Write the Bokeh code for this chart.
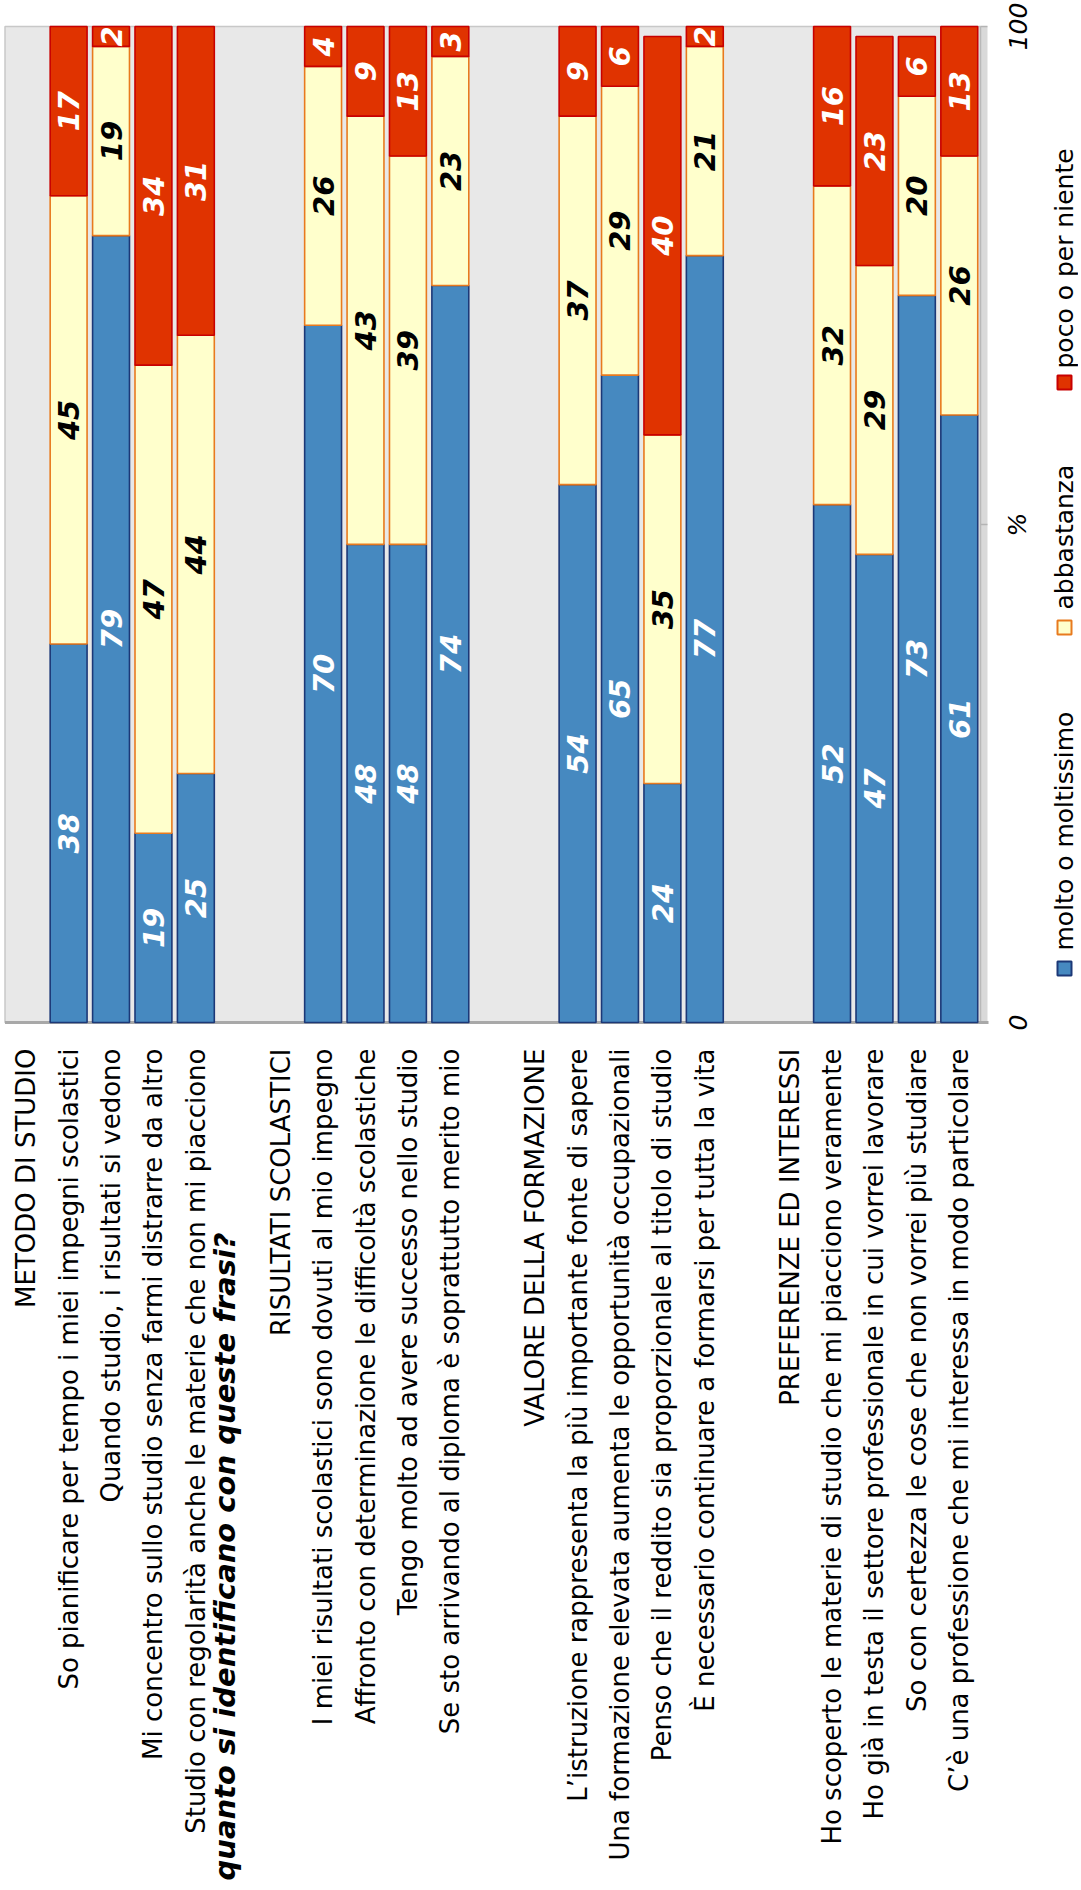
from math import pi
from bokeh.plotting import figure
from bokeh.models import Range1d, ColumnDataSource
from bokeh.core.properties import value
from bokeh.embed import file_html
from bokeh.resources import INLINE

# ---------------- data ----------------
groups = ["METODO DI STUDIO", "RISULTATI SCOLASTICI",
          "VALORE DELLA FORMAZIONE", "PREFERENZE ED INTERESSI"]

items_metodo = [
    "So pianificare per tempo i miei impegni scolastici",
    "Quando studio, i risultati si vedono",
    "Mi concentro sullo studio senza farmi distrarre da altro",
    "Studio con regolarità anche le materie che non mi piacciono",
]
items_risultati = [
    "I miei risultati scolastici sono dovuti al mio impegno",
    "Affronto con determinazione le difficoltà scolastiche",
    "Tengo molto ad avere successo nello studio",
    "Se sto arrivando al diploma è soprattutto merito mio",
]
items_valore = [
    "L’istruzione rappresenta la più importante fonte di sapere",
    "Una formazione elevata aumenta le opportunità occupazionali",
    "Penso che il reddito sia proporzionale al titolo di studio",
    "È necessario continuare a formarsi per tutta la vita",
]
items_preferenze = [
    "Ho scoperto le materie di studio che mi piacciono veramente",
    "Ho già in testa il settore professionale in cui vorrei lavorare",
    "So con certezza le cose che non vorrei più studiare",
    "C’è una professione che mi interessa in modo particolare",
]

molto = [38, 79, 19, 25, 70, 48, 48, 74, 54, 65, 24, 77, 52, 47, 73, 61]
abbastanza = [45, 19, 47, 44, 26, 43, 39, 23, 37, 29, 35, 21, 32, 29, 20, 26]
poco = [17, 2, 34, 31, 4, 9, 13, 3, 9, 6, 40, 2, 16, 23, 6, 13]

series_names = ["molto o moltissimo", "abbastanza", "poco o per niente"]
y_ticks = [0, 50, 100]
y_tick_labels = ["0", "%", "100"]
axis_title = "quanto si identificano con queste frasi?"

# ---------------- styles / layout ----------------
fills = ["#4689c0", "#ffffcc", "#e03300"]
lines = ["#1c3877", "#e87a1e", "#c80000"]
label_colors = ["white", "black", "white"]
FONT = "DejaVu Sans"

W, H = 1078, 1886                 # canvas size (placed at page 0,0)
PLOT_LEFT, PLOT_RIGHT = 4.5, 980  # grey plotting area, page pixels
PLOT_TOP, PLOT_BOTTOM = 26, 1022

all_groups_items = [items_metodo, items_risultati, items_valore, items_preferenze]
slot_labels = []            # category axis, including group headers and gaps
for gi, g in enumerate(groups):
    if gi > 0:
        slot_labels.append("")
    slot_labels.append(g)
    slot_labels.extend(all_groups_items[gi])
n = len(slot_labels)
items = [it for grp in all_groups_items for it in grp]
item_pos = [slot_labels.index(it) + 0.5 for it in items]

SX = (PLOT_RIGHT - PLOT_LEFT) / n      # px per category slot
SY = (PLOT_BOTTOM - PLOT_TOP) / 100    # px per percent


def dx(page_x):
    return (page_x - PLOT_LEFT) / SX


def dy(page_y):
    return (PLOT_BOTTOM - page_y) / SY


p = figure(x_range=Range1d(dx(0), dx(W)),
           y_range=Range1d(dy(H), dy(0)),
           width=W, height=H, output_backend="svg", toolbar_location=None,
           x_axis_location=None, y_axis_location=None, min_border=0)
p.outline_line_color = None
p.grid.visible = False
p.background_fill_color = "white"
p.border_fill_color = "white"

# grey plotting area
p.quad(left=0, right=n, bottom=0, top=100, fill_color="#e8e8e8",
       line_color="#c8c8c8", line_width=1.5)
# right wall shading, value axis line, tick marks
p.segment(x0=[n + 3.5 / SX], y0=[0], x1=[n + 3.5 / SX], y1=[100],
          line_color="#d9d9d9", line_width=7)
p.segment(x0=[n], y0=[0], x1=[n], y1=[100], line_color="#b8b8b8", line_width=1.5)
p.segment(x0=[n] * len(y_ticks), y0=y_ticks, x1=[n + 7 / SX] * len(y_ticks), y1=y_ticks,
          line_color="#b4b4b4", line_width=1.5)
# category axis line
p.segment(x0=[0], y0=[0], x1=[n + 8 / SX], y1=[0], line_color="#a8a8a8", line_width=3)

# stacked bars
src = ColumnDataSource(dict(x=item_pos, molto=molto, abbastanza=abbastanza, poco=poco))
p.vbar_stack(["molto", "abbastanza", "poco"], x="x", width=0.87, source=src,
             fill_color=fills, line_color=lines, line_width=1.6)

# value labels inside segments
lx, ly, lt, lc = [], [], [], []
for i in range(len(items)):
    base = 0
    for si, vals in enumerate([molto, abbastanza, poco]):
        v = vals[i]
        lx.append(item_pos[i])
        ly.append(base + v / 2)
        lt.append(str(v))
        lc.append(label_colors[si])
        base += v
p.text(x="x", y="y", text="t", source=ColumnDataSource(dict(x=lx, y=ly, t=lt, c=lc)),
       angle=pi / 2, text_align="center", text_baseline="middle",
       text_font=value(FONT), text_font_style="bold italic",
       text_font_size="29px", text_color="c")

# category labels (rotated, right-aligned against the plot)
cat_x = [i + 0.5 for i, s in enumerate(slot_labels) if s]
cat_t = [s for s in slot_labels if s]
p.text(x=cat_x, y=[dy(1048)] * len(cat_x), text=cat_t, angle=pi / 2,
       text_align="right", text_baseline="middle",
       text_font=value(FONT), text_font_size="26px", text_color="#000000")

# value-axis tick labels
p.text(x=[dx(1017)] * len(y_ticks), y=y_ticks, text=y_tick_labels,
       angle=pi / 2, text_align="center",
       text_baseline="middle", text_font=value(FONT), text_font_style="italic",
       text_font_size="25px", text_color="#000000")

# legend (rotated)
leg_x = dx(1064)
leg_square_page_y = [968, 627, 382]
leg_text_page_y = [950, 609, 368]
p.scatter(x=[leg_x] * 3, y=[dy(v) for v in leg_square_page_y], marker="square",
          size=14, fill_color=fills, line_color=lines, line_width=2)
p.text(x=[leg_x] * 3, y=[dy(v) for v in leg_text_page_y], text=series_names,
       angle=pi / 2, text_align="left", text_baseline="middle",
       text_font=value(FONT), text_font_size="25px", text_color="#000000")

# axis title
p.text(x=[dx(224)], y=[dy(1880)], text=[axis_title], angle=pi / 2,
       text_align="left", text_baseline="middle",
       text_font=value(FONT), text_font_style="bold italic",
       text_font_size="29px", text_color="#000000")

open("out.html", "w").write(file_html(p, INLINE))
